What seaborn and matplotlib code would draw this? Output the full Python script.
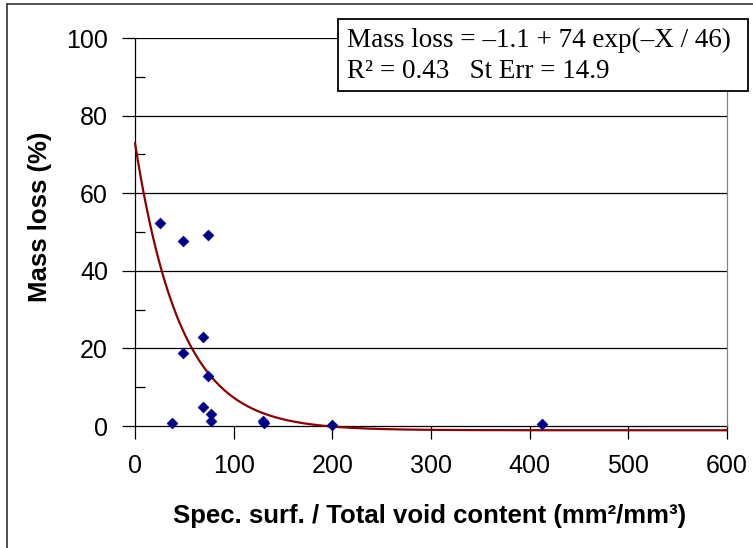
import numpy as np
import pandas as pd
import seaborn as sns
import matplotlib
matplotlib.use("Agg")
import matplotlib.pyplot as plt
from matplotlib.lines import Line2D
from matplotlib.patches import Rectangle
from matplotlib.ticker import MultipleLocator

# Measured specimens: specific surface / total void content vs. mass loss
spec_surface = [25.8, 48.9, 73.9, 69.1, 48.9, 73.9, 69.1, 77.2, 77.2, 37.7,
                129.8, 130.5, 199.5, 412.5]
mass_loss = [52.4, 47.7, 49.3, 23.0, 18.8, 12.9, 5.0, 3.1, 1.4, 0.85,
             1.4, 0.8, 0.3, 0.5]

# Fitted exponential decay: y = a + b * exp(-x / c)
fit_a, fit_b, fit_c = -1.1, 74.0, 46.0
fit_r2, fit_sterr = 0.43, 14.9

x_ticks = [0, 100, 200, 300, 400, 500, 600]
y_ticks = [0, 20, 40, 60, 80, 100]

df = pd.DataFrame({"x": spec_surface, "y": mass_loss})
xs = np.linspace(0, 600, 600)
fit_df = pd.DataFrame({"x": xs, "y": fit_a + fit_b * np.exp(-xs / fit_c)})

sns.set_style("white")
plt.rcParams["font.family"] = ["Liberation Sans", "DejaVu Sans"]
plt.rcParams["text.color"] = "black"
plt.rcParams["xtick.color"] = "black"
plt.rcParams["ytick.color"] = "black"

W, H = 753, 548
fig = plt.figure(figsize=(W / 100, H / 100), dpi=100)
ax = fig.add_axes([135 / W, 122 / H, (727 - 135) / W, (426 - 38) / H])

sns.lineplot(data=fit_df, x="x", y="y", ax=ax, color="#8b0000", linewidth=1.6,
             zorder=3, clip_on=False)
sns.scatterplot(data=df, x="x", y="y", ax=ax, marker="D", s=30,
                color="#00008b", edgecolor="#00008b", linewidth=0.5, zorder=4,
                clip_on=False)

ax.set_xlim(0, 600)
ax.set_ylim(0, 100)
ax.set_xticks(x_ticks)
ax.set_yticks(y_ticks)
ax.yaxis.set_minor_locator(MultipleLocator(10))
ax.tick_params(axis="both", which="major", direction="out", length=9.5,
               width=0.9, color="black", labelsize=18, labelcolor="black",
               left=True, bottom=True)
ax.tick_params(axis="y", which="minor", direction="in", length=7, width=0.9,
               color="black", left=True)
ax.tick_params(axis="x", which="major", pad=11)
ax.tick_params(axis="y", which="major", pad=10)

ax.grid(False)
for yv in y_ticks[1:]:
    ax.axhline(yv, color="black", linewidth=0.9, zorder=1)

ax.spines["left"].set_color("black")
ax.spines["bottom"].set_color("black")
ax.spines["top"].set_visible(False)
ax.spines["right"].set_color("#808080")
for s in ax.spines.values():
    s.set_linewidth(0.9)
ax.spines["bottom"].set_zorder(2)

ax.set_xlabel("")
ax.set_ylabel("")
fig.text(430 / W, 1 - 523 / H, "Spec. surf. / Total void content (mm²/mm³)",
         ha="center", va="baseline", fontsize=18.5, fontweight="bold")
fig.text(40 / W, 1 - 217 / H, "Mass loss (%)", rotation=90,
         ha="center", va="center", fontsize=18.5, fontweight="bold")

# Fit summary box
fig.patches.append(Rectangle((338 / W, 1 - 91 / H), (748 - 338) / W,
                             (91 - 19) / H, transform=fig.transFigure,
                             facecolor="white", edgecolor="black",
                             linewidth=1.3, zorder=5))
serif = ["Liberation Serif", "DejaVu Serif"]
fig.text(347 / W, 1 - 47 / H, "Mass loss = –1.1 + 74 exp(–X / 46)",
         ha="left", va="baseline", fontsize=19.5, family=serif, zorder=6)
fig.text(347 / W, 1 - 78 / H, f"R² = {fit_r2}   St Err = {fit_sterr}",
         ha="left", va="baseline", fontsize=19.5, family=serif, zorder=6)

# Outer frame (top and left edges)
fig.lines.append(Line2D([7 / W, 7 / W], [0, 1 - 4 / H], transform=fig.transFigure,
                        color="#333333", linewidth=1.2))
fig.lines.append(Line2D([7 / W, 1], [1 - 4 / H, 1 - 4 / H],
                        transform=fig.transFigure, color="#333333",
                        linewidth=1.2))

fig.savefig("out.png", dpi=100)
